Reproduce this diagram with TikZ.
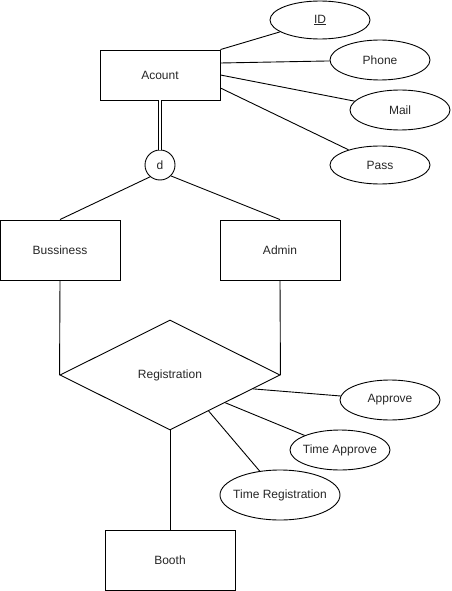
\documentclass[tikz,border=0pt]{standalone}
\usepackage{fontspec}
\setmainfont{Liberation Sans}
\usetikzlibrary{shapes.geometric,calc}
\begin{document}
\begin{tikzpicture}[x=1pt,y=-1pt,
  every node/.style={font=\fontsize{12}{14}\selectfont, text=black!85, inner sep=0pt},
  entity/.style={draw, line width=0.9pt, rectangle, minimum width=120pt, minimum height=60pt},
  attr/.style={draw, line width=0.9pt, ellipse, minimum width=100pt, minimum height=40pt},
  rel/.style={draw, line width=0.9pt, diamond, minimum width=220pt, minimum height=110pt},
  disj/.style={draw, line width=0.9pt, circle, minimum size=30pt},
  link/.style={line width=0.9pt}]
\useasboundingbox (0,0) rectangle (451,591);

% entities
\node[entity, minimum height=50pt] (acc) at (160,75) {Acount};
\node[entity] (bus) at (60,250) {Bussiness};
\node[entity] (adm) at (280,250) {Admin};
\node[entity, minimum width=130pt] (booth) at (170,560) {Booth};

% attributes of Acount
\node[attr, minimum height=38pt] (id) at (320,20) {\underline{ID}};
\node[attr] (phone) at (380,60) {Phone};
\node[attr] (mail) at (400,110) {Mail};
\node[attr, minimum height=38pt] (pass) at (380,165) {Pass};

% specialisation circle
\node[disj] (d) at (160,165) {d};

% relationship and its attributes (long labels boxed to zero width so the
% ellipse keeps its fixed size)
\node[rel] (reg) at (170,375) {Registration};
\node[attr] (app) at (390,400) {Approve};
\node[attr] (tapp) at (340,450) {\makebox[0pt]{Time Approve}};
\node[attr, minimum width=120pt, minimum height=50pt] (treg) at (280,495) {\makebox[0pt]{Time Registration}};

% Acount attributes
\draw[link] (acc.north east) -- (id);
\draw[link] ([yshift=12pt]acc.east) -- (phone);
\draw[link] (acc.east) -- (mail);
\draw[link] ([yshift=-13pt]acc.east) -- (pass);

% total disjoint specialisation
\draw[line width=0.75pt, double, double distance=2.4pt] (acc.south) -- (d.north);
\draw[link] (d.230) -- (bus.north);
\draw[link] (d.-45) -- (adm.north);

% participation in Registration
\draw[link] (bus.south) -- (reg.west);
\draw[link] (adm.south) -- (reg.east);
\draw[link] (reg.south) -- (booth.north);

% Registration attributes
\draw[link] ($(reg.east)!0.25!(reg.south)$) -- (app);
\draw[link] ($(reg.east)!0.5!(reg.south)$) -- (tapp);
\draw[link] ($(reg.east)!0.65!(reg.south)$) -- (treg);
\end{tikzpicture}
\end{document}
